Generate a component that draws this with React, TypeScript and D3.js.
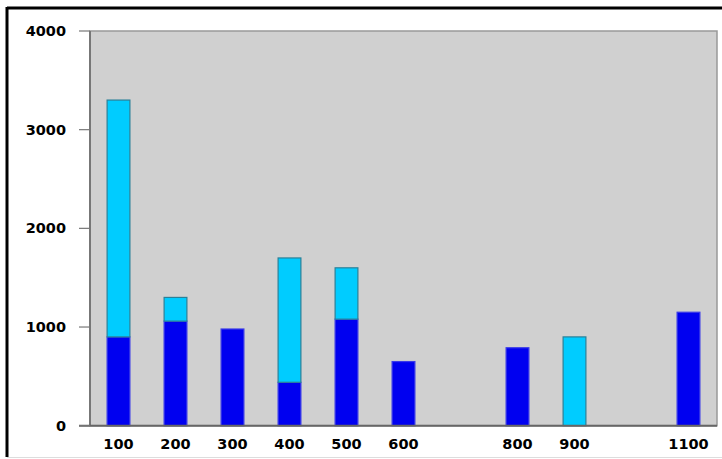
import React from "react";
import * as d3 from "d3";

// Category slots along the x axis (every 100 from 100 to 1100)
const categories = ["100", "200", "300", "400", "500", "600", "700", "800", "900", "1000", "1100"];
// Only slots that hold data carry a label
const xTickLabels = ["100", "200", "300", "400", "500", "600", "800", "900", "1100"];
// Lower (dark blue) segment of each stack
const seriesA = [900, 1060, 980, 440, 1080, 650, 0, 790, 0, 0, 1150];
// Upper (light blue) segment of each stack
const seriesB = [2400, 240, 0, 1260, 520, 0, 0, 0, 900, 0, 0];
const yTicks = [0, 1000, 2000, 3000, 4000];

const W = 722;
const H = 459;
const plot = { left: 90, right: 717, top: 31, bottom: 425.7 };

export default function App() {
  const x = d3
    .scaleBand<string>()
    .domain(categories)
    .range([plot.left, plot.right])
    .paddingInner(0.6)
    .paddingOuter(0.3);
  const y = d3.scaleLinear().domain([0, 4000]).range([plot.bottom, plot.top]);

  const rows = categories.map((c, i) => ({ cat: c, a: seriesA[i], b: seriesB[i] }));
  const stack = d3.stack<any>().keys(["a", "b"])(rows);
  const fills = ["#0000f0", "#00ccff"];
  const strokes = ["#3a3ae8", "#2a8098"];
  const bw = x.bandwidth();

  return (
    <svg
      width={W}
      height={H}
      style={{ position: "absolute", left: 0, top: 0, background: "#fff" }}
      fontFamily="'DejaVu Sans', sans-serif"
    >
      {/* outer frame */}
      <line x1={7} y1={8} x2={W} y2={8} stroke="#000" strokeWidth={3} />
      <line x1={7} y1={7} x2={7} y2={457} stroke="#000" strokeWidth={3} />
      <line x1={7} y1={457.5} x2={W} y2={457.5} stroke="#ddd" strokeWidth={1} />

      {/* plot background */}
      <rect
        x={plot.left}
        y={plot.top}
        width={plot.right - plot.left}
        height={plot.bottom - plot.top}
        fill="#d0d0d0"
        stroke="#999"
        strokeWidth={1.5}
      />

      {/* bars */}
      {stack.map((layer, li) =>
        layer.map((d, i) => {
          const h = y(d[0]) - y(d[1]);
          if (h <= 0) return null;
          return (
            <rect
              key={`${li}-${i}`}
              x={x(categories[i])!}
              y={y(d[1])}
              width={bw}
              height={h}
              fill={fills[li]}
              stroke={strokes[li]}
              strokeWidth={1.2}
            />
          );
        })
      )}

      {/* axes lines */}
      <line x1={plot.left} y1={plot.top} x2={plot.left} y2={plot.bottom} stroke="#777" strokeWidth={2} />
      <line x1={plot.left - 11} y1={plot.bottom} x2={plot.right} y2={plot.bottom} stroke="#666" strokeWidth={2} />

      {/* y ticks */}
      {yTicks.map((t) => (
        <g key={t}>
          <line x1={plot.left - 11} x2={plot.left} y1={y(t)} y2={y(t)} stroke="#777" strokeWidth={1.2} />
          <text
            x={66}
            y={y(t)}
            dy="0.35em"
            textAnchor="end"
            fontSize={14.5}
            fontWeight="bold"
            fill="#000"
          >
            {t}
          </text>
        </g>
      ))}

      {/* x labels */}
      {xTickLabels.map((c) => (
        <text
          key={c}
          x={x(c)! + bw / 2}
          y={444}
          dy="0.35em"
          textAnchor="middle"
          fontSize={14.5}
          fontWeight="bold"
          fill="#000"
        >
          {c}
        </text>
      ))}
    </svg>
  );
}
